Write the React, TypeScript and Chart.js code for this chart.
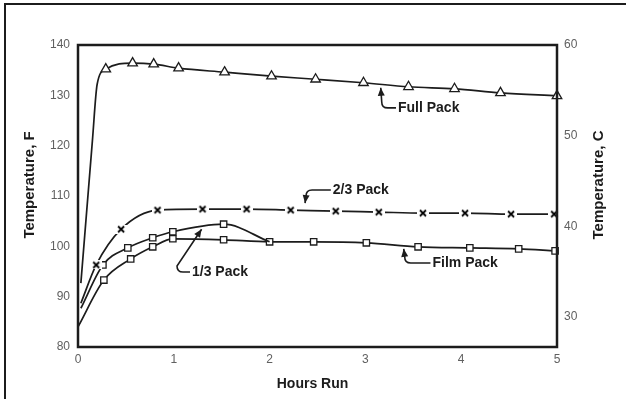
import React, { useEffect, useRef } from "react";
import { Chart, registerables } from "chart.js";

Chart.register(...registerables);

// ---- Data ----
const hourTicks = [0, 1, 2, 3, 4, 5];
const fahrenheitTicks = [80, 90, 100, 110, 120, 130, 140];
const celsiusTicks = [30, 40, 50, 60];

const fullPackHours = [0.03, 0.15, 0.2, 0.29, 0.57, 0.79, 1.05, 1.53, 2.02, 2.48, 2.98, 3.45, 3.93, 4.41, 5.0];
const fullPackTemps = [92.7, 120.9, 132.2, 135.2, 136.4, 136.2, 135.4, 134.6, 133.8, 133.2, 132.5, 131.7, 131.3, 130.5, 129.9];

const twoThirdsHours = [0.03, 0.19, 0.45, 0.83, 1.3, 1.76, 2.22, 2.69, 3.14, 3.6, 4.04, 4.52, 4.97];
const twoThirdsTemps = [88.7, 96.3, 103.4, 107.2, 107.4, 107.4, 107.2, 107.0, 106.8, 106.6, 106.6, 106.4, 106.4];

const oneThirdHours = [0.03, 0.26, 0.52, 0.78, 0.99, 1.52, 2.0];
const oneThirdTemps = [87.7, 96.3, 99.7, 101.7, 102.9, 104.4, 100.9];

const filmPackHours = [0, 0.27, 0.55, 0.78, 0.99, 1.52, 2.0, 2.46, 3.01, 3.55, 4.09, 4.6, 4.98];
const filmPackTemps = [84.0, 93.3, 97.5, 99.9, 101.5, 101.3, 100.9, 100.9, 100.7, 99.9, 99.7, 99.5, 99.1];

const annotationLabels = ["Full Pack", "2/3 Pack", "1/3 Pack", "Film Pack"];
const annotationTextHours = [3.34, 2.66, 1.19, 3.7];
const annotationTextTemps = [127.5, 111.2, 94.9, 96.7];
const annotationTipHours = [3.16, 2.37, 1.29, 3.4];
const annotationTipTemps = [131.5, 108.6, 103.4, 99.5];

const xTitle = "Hours Run";
const yTitle = "Temperature, F";
const y2Title = "Temperature, C";

const INK = "#1c1c1c";
const FONT = "'Liberation Sans', Arial, Helvetica, sans-serif";

const toPoints = (xs: number[], ys: number[]) => xs.map((x, i) => ({ x, y: ys[i] }));
const fToC = (f: number) => ((f - 32) * 5) / 9;

function makeXMarker(): HTMLCanvasElement {
  const c = document.createElement("canvas");
  c.width = 12;
  c.height = 9;
  const g = c.getContext("2d")!;
  g.fillStyle = "#ffffff";
  g.fillRect(0, 0, 12, 9);
  g.strokeStyle = "#000000";
  g.lineWidth = 1.8;
  g.beginPath();
  g.moveTo(3, 1.5);
  g.lineTo(9, 7.5);
  g.moveTo(9, 1.5);
  g.lineTo(3, 7.5);
  g.stroke();
  return c;
}

const decorPlugin = {
  id: "decor",
  beforeDraw(chart: any) {
    const { ctx, width, height } = chart;
    ctx.save();
    ctx.fillStyle = "#ffffff";
    ctx.fillRect(0, 0, width, height);
    ctx.strokeStyle = INK;
    ctx.lineWidth = 2;
    ctx.beginPath();
    ctx.moveTo(5, height);
    ctx.lineTo(5, 4);
    ctx.lineTo(width, 4);
    ctx.stroke();
    ctx.restore();
  },
  afterDraw(chart: any) {
    const { ctx, chartArea, scales } = chart;
    const { left, right, top, bottom } = chartArea;
    ctx.save();
    // plot frame
    ctx.strokeStyle = INK;
    ctx.lineWidth = 2.5;
    ctx.strokeRect(left, top, right - left, bottom - top);

    // axis titles
    ctx.fillStyle = INK;
    ctx.font = `bold 14px ${FONT}`;
    ctx.textAlign = "center";
    ctx.textBaseline = "middle";
    ctx.fillText(xTitle, (left + right) / 2 - 5, bottom + 37);

    const midY = (top + bottom) / 2 - 11;
    ctx.font = `bold 15px ${FONT}`;
    ctx.save();
    ctx.translate(30, midY);
    ctx.rotate(-Math.PI / 2);
    ctx.fillText(yTitle, 0, 0);
    ctx.restore();
    ctx.save();
    ctx.translate(right + 42, midY);
    ctx.rotate(-Math.PI / 2);
    ctx.fillText(y2Title, 0, 0);
    ctx.restore();

    // annotations
    const xs = scales.x;
    const ys = scales.y;
    ctx.font = `bold 14px ${FONT}`;
    ctx.textAlign = "left";
    ctx.lineWidth = 1.6;
    annotationLabels.forEach((label, i) => {
      const lx = xs.getPixelForValue(annotationTextHours[i]);
      const ly = ys.getPixelForValue(annotationTextTemps[i]);
      const tx = xs.getPixelForValue(annotationTipHours[i]);
      const ty = ys.getPixelForValue(annotationTipTemps[i]);
      ctx.fillText(label, lx, ly);
      const s = ty < ly ? -1 : 1;
      const hx = Math.min(tx + 7, lx - 9);
      const ex = hx - 6;
      const ey = ly + s * 6;
      ctx.beginPath();
      ctx.moveTo(lx - 2, ly);
      ctx.lineTo(hx, ly);
      ctx.quadraticCurveTo(ex, ly, ex, ey);
      ctx.lineTo(tx, ty);
      ctx.stroke();
      const ang = Math.atan2(ty - ey, tx - ex);
      const L = 8;
      const W = 3.5;
      const bx = tx - L * Math.cos(ang);
      const by = ty - L * Math.sin(ang);
      ctx.beginPath();
      ctx.moveTo(tx, ty);
      ctx.lineTo(bx + W * Math.sin(ang), by - W * Math.cos(ang));
      ctx.lineTo(bx - W * Math.sin(ang), by + W * Math.cos(ang));
      ctx.closePath();
      ctx.fill();
    });
    ctx.restore();
  },
};

export default function App() {
  const ref = useRef<HTMLCanvasElement | null>(null);

  useEffect(() => {
    if (!ref.current) return;
    const xMarker = makeXMarker();
    const tickFont = { family: FONT, size: 12 };
    const tickColor = "#606060";
    const common = {
      borderColor: INK,
      borderWidth: 1.7,
      pointBackgroundColor: "#ffffff",
      pointBorderColor: INK,
      pointBorderWidth: 1.3,
      cubicInterpolationMode: "monotone" as const,
      fill: false,
      clip: 12,
      yAxisID: "y",
    };
    const chart = new Chart(ref.current, {
      type: "line",
      data: {
        datasets: [
          {
            ...common,
            label: "Full Pack",
            data: toPoints(fullPackHours, fullPackTemps),
            pointStyle: "triangle",
            pointRadius: fullPackHours.map((_, i) => (i < 3 ? 0 : 5.5)),
          },
          {
            ...common,
            label: "2/3 Pack",
            data: toPoints(twoThirdsHours, twoThirdsTemps),
            pointStyle: xMarker as any,
            pointRadius: twoThirdsHours.map((_, i) => (i < 1 ? 0 : 5)),
          },
          {
            ...common,
            label: "1/3 Pack",
            data: toPoints(oneThirdHours, oneThirdTemps),
            pointStyle: "rect",
            pointRadius: oneThirdHours.map((_, i) => (i < 1 || i === oneThirdHours.length - 1 ? 0 : 4.5)),
          },
          {
            ...common,
            label: "Film Pack",
            data: toPoints(filmPackHours, filmPackTemps),
            pointStyle: "rect",
            pointRadius: filmPackHours.map((_, i) => (i < 1 ? 0 : 4.5)),
          },
        ],
      },
      options: {
        responsive: false,
        animation: false,
        devicePixelRatio: 1,
        layout: { padding: { top: 45, left: 0, right: 0, bottom: 0 } },
        plugins: { legend: { display: false }, tooltip: { enabled: false } },
        scales: {
          x: {
            type: "linear",
            position: "bottom",
            min: 0,
            max: 5,
            afterBuildTicks: (s: any) => {
              s.ticks = hourTicks.map((v) => ({ value: v }));
            },
            afterFit: (s: any) => {
              s.height = 52;
            },
            ticks: { padding: 5, font: tickFont, color: tickColor },
            grid: { display: false, drawTicks: false },
            border: { display: false },
          },
          y: {
            type: "linear",
            position: "left",
            min: 80,
            max: 140,
            afterBuildTicks: (s: any) => {
              s.ticks = fahrenheitTicks.map((v) => ({ value: v }));
            },
            afterFit: (s: any) => {
              s.width = 78;
            },
            ticks: { padding: 8, font: tickFont, color: tickColor },
            grid: { display: false, drawTicks: false },
            border: { display: false },
          },
          y2: {
            type: "linear",
            position: "right",
            min: fToC(80),
            max: fToC(140),
            afterBuildTicks: (s: any) => {
              s.ticks = celsiusTicks.map((v) => ({ value: v }));
            },
            afterFit: (s: any) => {
              s.width = 69;
            },
            ticks: { padding: 7, font: tickFont, color: tickColor },
            grid: { display: false, drawTicks: false },
            border: { display: false },
          },
        },
      },
      plugins: [decorPlugin],
    });
    return () => chart.destroy();
  }, []);

  return (
    <div style={{ position: "fixed", left: 0, top: 0, width: 626, height: 399, background: "#fff" }}>
      <canvas ref={ref} width={626} height={399} />
    </div>
  );
}
